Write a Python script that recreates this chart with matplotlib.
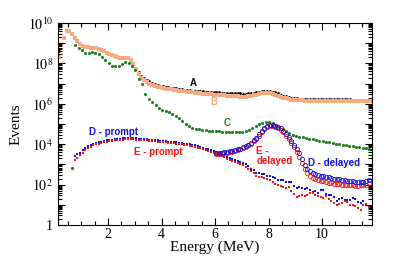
import numpy as np
import matplotlib
matplotlib.use("Agg")
from matplotlib import pyplot as plt
from matplotlib.ticker import LogLocator, MultipleLocator, NullFormatter

# log10(events) per energy bin
b_log = [8.3, np.nan, 9.26, 9.6, 9.62, 9.45, 9.28, 9.1, 8.97, 8.88,
         8.82, 8.79, 8.77, 8.76, 8.75, 8.72, 8.67, 8.6, 8.53, 8.47,
         8.42, 8.38, 8.33, 8.29, 8.27, 8.27, 8.25, 8.15, 7.98, 7.72,
         7.48, 7.3, 7.18, 7.08, 7.0, 6.94, 6.89, 6.85, 6.81, 6.78,
         6.75, 6.73, 6.71, 6.69, 6.67, 6.65, 6.63, 6.61, 6.59, 6.57,
         6.56, 6.54, 6.53, 6.52, 6.5, 6.49, 6.48, 6.47, 6.46, 6.45,
         6.44, 6.43, 6.42, 6.41, 6.4, 6.39, 6.38, 6.37, 6.36, 6.36,
         6.36, 6.37, 6.39, 6.42, 6.45, 6.48, 6.51, 6.53, 6.53, 6.52,
         6.49, 6.45, 6.41, 6.36, 6.31, 6.27, 6.24, 6.21, 6.19, 6.18,
         6.17, 6.17, 6.16, 6.16, 6.16, 6.15, 6.15, 6.15, 6.15, 6.14,
         6.14, 6.14, 6.14, 6.14, 6.14, 6.13, 6.13, 6.13, 6.13, 6.13,
         6.13, 6.13, 6.12, 6.12, 6.12, 6.12, 6.12, 6.12]
a_log = [8.62, np.nan, 9.26, 9.6, 9.62, 9.45, 9.28, 9.1, 8.97, 8.88,
         8.82, 8.79, 8.77, 8.76, 8.75, 8.72, 8.67, 8.6, 8.53, 8.47,
         8.42, 8.38, 8.33, 8.29, 8.27, 8.27, 8.25, 8.15, 7.98, 7.78,
         7.56, 7.39, 7.27, 7.19, 7.11, 7.04, 6.99, 6.94, 6.9, 6.87,
         6.84, 6.82, 6.8, 6.78, 6.76, 6.74, 6.72, 6.7, 6.68, 6.66,
         6.65, 6.64, 6.63, 6.62, 6.61, 6.6, 6.59, 6.58, 6.58, 6.57,
         6.56, 6.55, 6.54, 6.54, 6.53, 6.52, 6.52, 6.51, 6.51, 6.5,
         6.5, 6.51, 6.52, 6.54, 6.57, 6.6, 6.62, 6.64, 6.64, 6.63,
         6.6, 6.56, 6.51, 6.46, 6.41, 6.37, 6.33, 6.3, 6.28, 6.27,
         6.26, 6.26, 6.25, 6.25, 6.25, 6.24, 6.24, 6.24, 6.24, 6.23,
         6.23, 6.23, 6.23, 6.22, 6.22, 6.22, 6.22, 6.22, 6.22, 6.22,
         6.21, 6.21, 6.21, 6.21, 6.21, 6.21, 6.21, 6.21]
c_log = [2.8, 8.9, 8.78, 8.65, 8.53, 8.5, 8.54, 8.53, 8.45, 8.32,
         8.18, 8.0, 7.88, 7.86, 7.86, 7.95, 8.05, 8.03, 7.87, 7.65,
         7.25, 7.0, 6.5, 6.25, 6.1, 5.92, 5.8, 5.7, 5.64, 5.57,
         5.5, 5.4, 5.3, 5.15, 5.0, 4.88, 4.8, 4.77, 4.75, 4.72,
         4.7, 4.67, 4.65, 4.64, 4.63, 4.62, 4.61, 4.6, 4.6, 4.6,
         4.6, 4.61, 4.65, 4.7, 4.8, 4.9, 4.98, 5.05, 5.1, 5.1,
         5.05, 4.97, 4.87, 4.75, 4.63, 4.53, 4.46, 4.42, 4.38, 4.34,
         4.3, 4.27, 4.24, 4.21, 4.18, 4.15, 4.12, 4.09, 4.06, 4.03,
         4.0, 3.97, 3.94, 3.92, 3.9, 3.87, 3.85, 3.82, 3.8, 3.77]
dp_log = [3.42, 3.5, 3.58, 3.7, 3.8, 3.89, 3.95, 4.02, 4.07, 4.1,
          4.13, 4.16, 4.19, 4.21, 4.23, 4.25, 4.27, 4.28, 4.29, 4.3,
          4.3, 4.3, 4.3, 4.29, 4.28, 4.27, 4.26, 4.24, 4.23, 4.21,
          4.2, 4.19, 4.18, 4.16, 4.15, 4.13, 4.12, 4.1, 4.09, 4.07,
          4.05, 4.03, 4.01, 3.99, 3.97, 3.94, 3.9, 3.86, 3.82, 3.78,
          3.74, 3.7, 3.65, 3.6, 3.54, 3.48, 3.42, 3.37, 3.32, 3.27,
          3.22, 3.17, 3.12, 3.07, 3.0, 2.9, 2.78, 2.7, 2.58, 2.55,
          2.5, 2.52, 2.45, 2.42, 2.38, 2.35, 2.25, 2.22, 2.24, 2.13,
          2.15, 2.12, 1.95, 1.83, 1.86, 1.85, 1.8, 1.83, 1.72, 1.63,
          1.7, 1.6, 1.75, 1.73, 1.55, 1.49, 1.5, 1.4, 1.2, 1.29,
          1.32, 1.22, 1.24, 1.24, 1.35, 1.29, 1.15, 1.09, 1.2, 1.0,
          0.89]
ep_log = [3.22, 3.3, 3.45, 3.58, 3.7, 3.8, 3.87, 3.94, 3.99, 4.03,
          4.07, 4.1, 4.13, 4.15, 4.17, 4.19, 4.21, 4.22, 4.23, 4.24,
          4.24, 4.24, 4.24, 4.23, 4.22, 4.21, 4.2, 4.19, 4.17, 4.16,
          4.14, 4.13, 4.12, 4.1, 4.09, 4.07, 4.06, 4.04, 4.03, 4.01,
          3.99, 3.97, 3.95, 3.93, 3.9, 3.87, 3.83, 3.79, 3.75, 3.71,
          3.67, 3.63, 3.58, 3.53, 3.47, 3.41, 3.35, 3.29, 3.24, 3.19,
          3.13, 3.08, 3.02, 2.96, 2.88, 2.78, 2.68, 2.58, 2.45, 2.4,
          2.36, 2.32, 2.28, 2.23, 2.15, 2.02, 1.98, 1.92, 1.88, 1.83,
          1.86, 1.7, 1.55, 1.39, 1.45, 1.5, 1.42, 1.49, 1.6, 1.58,
          1.5, 1.45, 1.4, 1.35, 1.44, 1.3, 1.18, 1.1, 0.99, 1.05,
          1.09, 1.2, 1.15, 1.0, 0.99, 0.95, 0.85, 0.74, 1.0, 1.05,
          0.89]
dd_log = [3.56, 3.57, 3.58, 3.6, 3.62, 3.64, 3.67, 3.7, 3.74, 3.78,
          3.84, 3.9, 3.98, 4.08, 4.2, 4.33, 4.5, 4.66, 4.8, 4.9,
          4.95, 4.95, 4.92, 4.86, 4.78, 4.67, 4.52, 4.35, 4.15, 3.95,
          3.75, 3.55, 3.25, 2.95, 2.75, 2.65, 2.58, 2.53, 2.48, 2.44,
          2.41, 2.38, 2.36, 2.33, 2.3, 2.28, 2.26, 2.23, 2.21, 2.19,
          2.17, 2.16, 2.14, 2.13, 2.12, 2.11, 2.16, 2.25]
ed_log = [3.5, 3.52, 3.54, 3.56, 3.58, 3.6, 3.63, 3.66, 3.7, 3.74,
          3.8, 3.86, 3.94, 4.03, 4.14, 4.27, 4.43, 4.6, 4.74, 4.84,
          4.88, 4.88, 4.85, 4.78, 4.7, 4.58, 4.43, 4.25, 4.05, 3.84,
          3.62, 3.38, 3.05, 2.75, 2.55, 2.42, 2.35, 2.29, 2.24, 2.2,
          2.16, 2.13, 2.1, 2.07, 2.05, 2.03, 2.01, 1.99, 1.98, 1.97,
          1.96, 1.96, 1.95, 1.95, 1.96, 1.97, 2.0, 2.06]


def bins(start, step, vals):
    # bin centres in MeV
    return start + step * np.arange(len(vals))


plt.rcParams['font.family'] = 'serif'
plt.rcParams['font.serif'] = ['Liberation Serif', 'DejaVu Serif']
plt.rcParams['mathtext.fontset'] = 'stix'

fig = plt.figure(figsize=(4.15, 2.59), dpi=100)
ax = fig.add_axes([0.1398, 0.1313, 0.7566, 0.7799])

orange = '#f7a982'
green = '#1b7f1b'
blue = '#1010e0'
red = '#ff1010'

# A sits under B; they only part above ~3 MeV
ax.plot(bins(0.15, 0.1, a_log), 10 ** np.array(a_log), 'o', color='black',
        ms=2.0, mew=0)
ax.plot(bins(0.15, 0.1, b_log), 10 ** np.array(b_log), 's', color=orange,
        ms=2.2, mew=0)
ax.plot(bins(0.65, 0.125, c_log), 10 ** np.array(c_log), 'o', color=green,
        ms=2.2, mew=0)
ax.plot(bins(0.75, 0.1, dp_log), 10 ** np.array(dp_log), 's', color=blue,
        ms=2.0, mew=0)
ax.plot(bins(0.75, 0.1, ep_log), 10 ** np.array(ep_log), 's', color=red,
        ms=2.0, mew=0)
ax.plot(bins(6.05, 0.1, ed_log), 10 ** np.array(ed_log), 'o', mfc='none',
        mec=red, ms=3.0, mew=0.6)
ax.plot(bins(6.05, 0.1, dd_log), 10 ** np.array(dd_log), 'o', mfc='none',
        mec=blue, ms=3.0, mew=0.6)

ax.set_yscale('log')
ax.set_xlim(0.13, 11.87)
ax.set_ylim(1, 1e10)

ax.xaxis.set_minor_locator(MultipleLocator(0.5))
ax.set_xticks([2, 4, 6, 8, 10])
ax.set_yticks([10.0 ** k for k in range(11)])
ax.set_yticklabels(['1' if k == 0 else (r'$10^{%d}$' % k if k % 2 == 0 else '')
                    for k in range(11)])
ax.yaxis.set_minor_locator(LogLocator(base=10, subs=np.arange(2, 10), numticks=20))
ax.yaxis.set_minor_formatter(NullFormatter())
ax.tick_params(which='both', direction='in', top=True, right=True,
               labelsize=10, width=0.8)
ax.tick_params(which='major', length=5)
ax.tick_params(which='minor', length=3)
ax.tick_params(axis='x', pad=2.5)

ax.set_xlabel('Energy (MeV)', fontsize=11, labelpad=-1)
ax.set_ylabel('Events', fontsize=11, labelpad=4)

lab = dict(family='Liberation Sans', weight='bold', fontsize=7,
           ha='center', va='center')
ax.text(5.18, 10 ** 7.03, 'A', color='black', **lab)
ax.text(5.96, 10 ** 6.09, 'B', color=orange, **lab)
ax.text(6.45, 10 ** 5.05, 'C', color=green, **lab)
ax.text(2.22, 10 ** 4.6, 'D - prompt', color=blue, **lab)
ax.text(3.87, 10 ** 3.61, 'E - prompt', color=red, **lab)
ax.text(10.45, 10 ** 3.07, 'D - delayed', color=blue, **lab)
ax.text(7.55, 10 ** 3.42, 'E -\ndelayed', color=red, family='Liberation Sans',
        weight='bold', fontsize=7, ha='left', va='center', linespacing=1.1)

fig.savefig('out.png', dpi=100)
